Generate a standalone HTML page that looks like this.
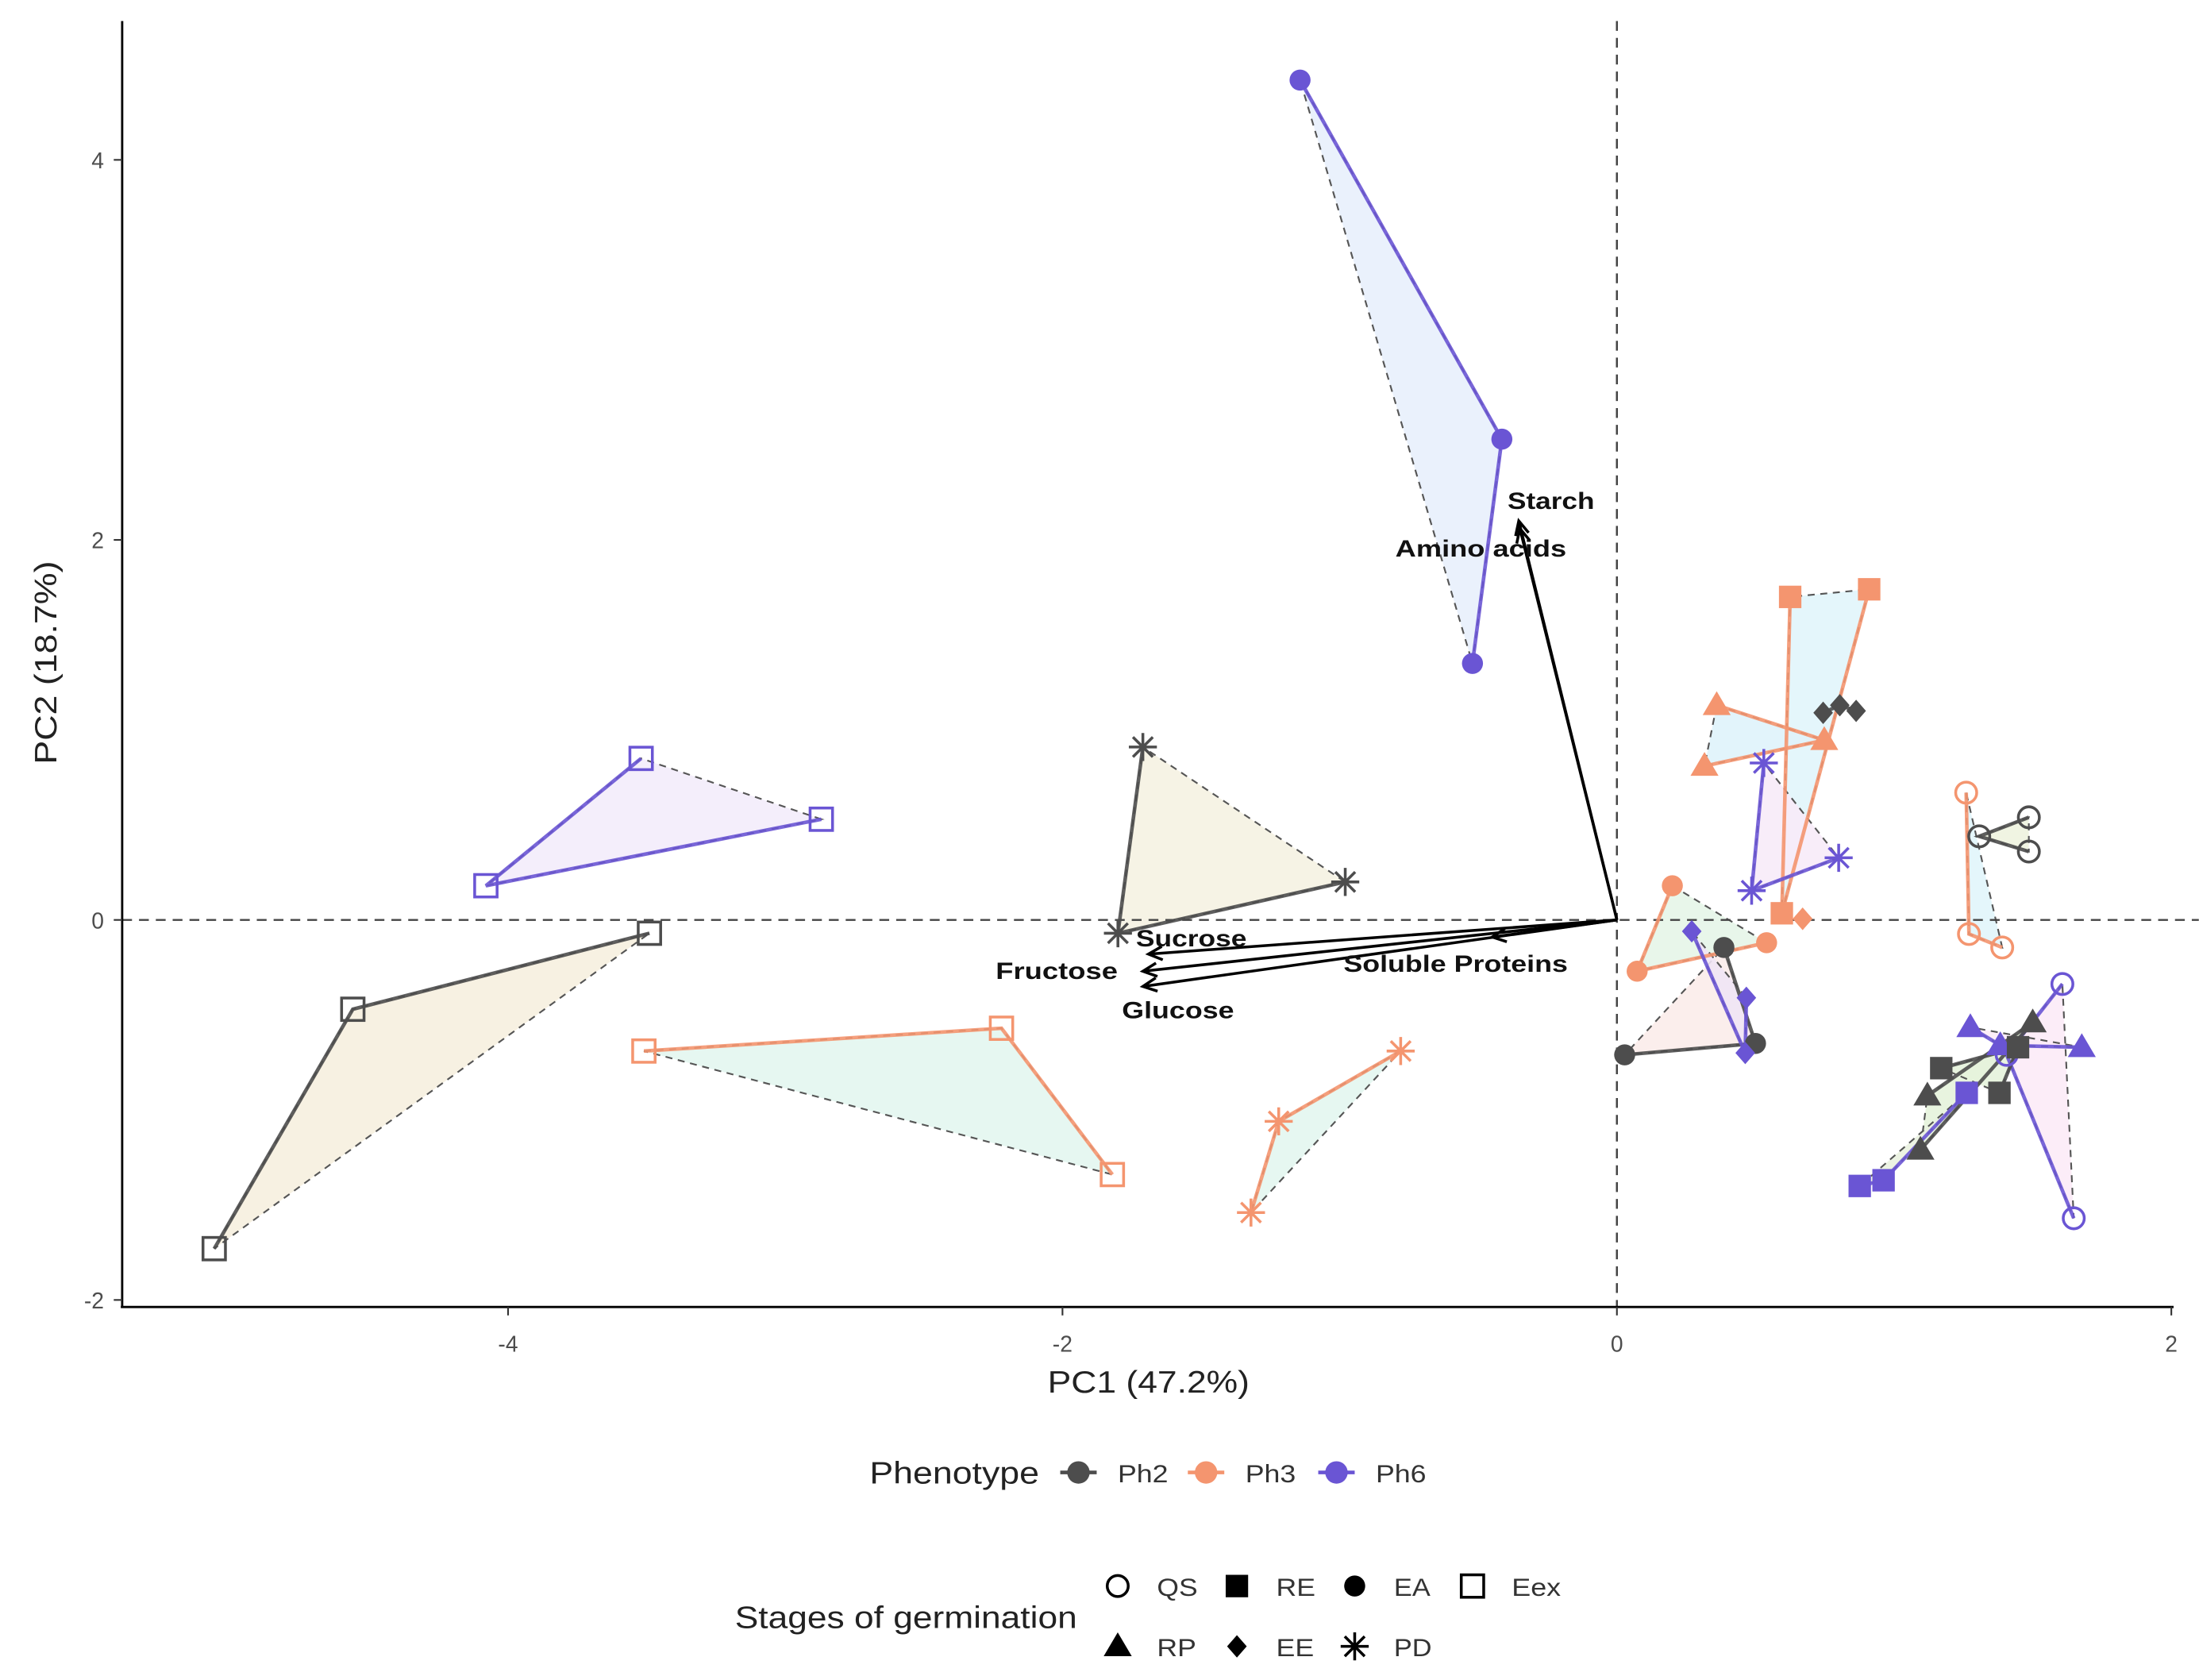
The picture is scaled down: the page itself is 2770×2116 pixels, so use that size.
<!DOCTYPE html>
<html><head><meta charset="utf-8">
<style>
html,body{margin:0;padding:0;background:#fff;}
svg{display:block;}
text{font-family:"Liberation Sans",Arial,sans-serif;}
</style></head>
<body>
<svg id="chart" width="2770" height="2116" viewBox="0 0 1568 1198" xmlns="http://www.w3.org/2000/svg">
<g id="hulls"></g>
<g id="ref"></g>
<g id="paths"></g>
<g id="pts"></g>
<g id="arrows"></g>
<g id="axes"></g>
<g id="legend"></g>
</svg>
<script>
const groupNames = ["Ph6-EA","Ph6-Eex","Ph2-Eex","Ph3-Eex","Ph2-PD","Ph3-PD","Ph3-RE","Ph3-RP","Ph6-PD","Ph3-EA","Ph2-EA","Ph6-EE","Ph3-QS","Ph2-QS","Ph6-QS","Ph6-RP","Ph2-RP","Ph2-RE","Ph6-RE","Ph2-EE","Ph3-EE"];
const groupPhenotype = ["Ph6","Ph6","Ph2","Ph3","Ph2","Ph3","Ph3","Ph3","Ph6","Ph3","Ph2","Ph6","Ph3","Ph2","Ph6","Ph6","Ph2","Ph2","Ph6","Ph2","Ph3"];
const groupStage = ["EA","Eex","Eex","Eex","PD","PD","RE","RP","PD","EA","EA","EE","QS","QS","QS","RP","RP","RE","RE","EE","EE"];
const pc1Values = [
 [-1.143,-0.415,-0.521],[-3.52,-4.08,-2.87],[-3.49,-4.56,-5.06],[-3.51,-2.22,-1.82],
 [-0.98,-1.80,-1.71],[-0.78,-1.22,-1.32],[0.625,0.595,0.91],[0.36,0.748,0.316],
 [0.53,0.486,0.80],[0.20,0.073,0.54],[0.386,0.50,0.028],[0.27,0.463,0.467],
 [1.26,1.27,1.39],[1.486,1.307,1.486],[1.607,1.406,1.648],[1.275,1.383,1.677],
 [1.12,1.50,1.095],[1.17,1.447,1.38],[0.876,0.962,1.262],[0.744,0.804,0.863],[0.67,0.67,0.67]];
const pc2Values = [
 [4.42,2.53,1.35],[0.85,0.18,0.53],[-0.07,-0.47,-1.73],[-0.69,-0.57,-1.34],
 [0.20,-0.07,0.91],[-0.69,-1.06,-1.54],[1.70,0.035,1.74],[1.13,0.946,0.81],
 [0.826,0.154,0.327],[0.18,-0.27,-0.12],[-0.145,-0.65,-0.71],[-0.06,-0.70,-0.41],
 [0.67,-0.074,-0.145],[0.54,0.44,0.36],[-0.337,-0.71,-1.57],[-0.565,-0.66,-0.67],
 [-0.925,-0.54,-1.21],[-0.78,-0.67,-0.91],[-1.40,-1.37,-0.91],[1.09,1.13,1.10],[0.006,0.006,0.006]];
const hullFills = ["#e8f0fc","#f3ecfb","#f6efdf","#e3f6f0","#f5f2e2","#e3f6f0","#e1f5fb","#dff3fb","#f7ebf8","#e5f5e8","#fbecea","#efe4f5","#e1f5fb","#eef3df","#fcebf7","#fcebf7","#e6f3dc","#e6f3dc","#eaf2e0","none","none"];
const loadingNames = ["Starch","Amino acids","Sucrose","Fructose","Glucose","Soluble Proteins"];
const loadingPC1 = [-0.354,-0.35,-1.69,-1.71,-1.71,-0.45];
const loadingPC2 = [2.10,2.06,-0.18,-0.27,-0.35,-0.09];
const xTicks = [-4,-2,0,2];
const yTicks = [-2,0,2,4];

const NS="http://www.w3.org/2000/svg";
const colors={Ph2:"#4d4d4d",Ph3:"#f4956f",Ph6:"#6a55d4"};
function sx(v){return 1153+v*197.7;}
function sy(v){return 656-v*135.5;}
function mk(tag,attrs,parent){const e=document.createElementNS(NS,tag);for(const k in attrs)e.setAttribute(k,attrs[k]);if(parent)parent.appendChild(e);return e;}
function marker(parent,stage,x,y,c){
  let g=mk("g",{},parent);
  if(stage==="EA"){mk("circle",{cx:x,cy:y,r:7.5,fill:c},g);}
  else if(stage==="QS"){mk("circle",{cx:x,cy:y,r:7.5,fill:"none",stroke:c,"stroke-width":2},g);}
  else if(stage==="RE"){mk("rect",{x:x-8,y:y-8,width:16,height:16,fill:c},g);}
  else if(stage==="Eex"){mk("rect",{x:x-8,y:y-8,width:16,height:16,fill:"none",stroke:c,"stroke-width":2},g);}
  else if(stage==="RP"){mk("polygon",{points:`${x},${y-10} ${x+10},${y+7} ${x-10},${y+7}`,fill:c},g);}
  else if(stage==="EE"){mk("polygon",{points:`${x},${y-8} ${x+7},${y} ${x},${y+8} ${x-7},${y}`,fill:c},g);}
  else if(stage==="PD"){const r=10,d=7.1;
    mk("path",{d:`M${x-r},${y}H${x+r}M${x},${y-r}V${y+r}M${x-d},${y-d}L${x+d},${y+d}M${x-d},${y+d}L${x+d},${y-d}`,stroke:c,"stroke-width":2,fill:"none"},g);}
  return g;
}
const hulls=document.getElementById("hulls"),paths=document.getElementById("paths"),pts=document.getElementById("pts");
for(let i=0;i<groupNames.length;i++){
  const c=colors[groupPhenotype[i]];
  const P=pc1Values[i].map((v,j)=>[sx(v),sy(pc2Values[i][j])]);
  const ps=P.map(p=>p.join(",")).join(" ");
  if(hullFills[i]!=="none"){
    const h=mk("polygon",{points:ps,fill:hullFills[i],"fill-opacity":0.9,stroke:"#555","stroke-width":1.2,"stroke-dasharray":"5,4"},hulls);
    
    
  }
  const pl=mk("polyline",{points:ps,fill:"none",stroke:c,"stroke-width":2.6,"stroke-opacity":0.9},paths);
  
  
  P.forEach((p,j)=>{
    const m=marker(pts,groupStage[i],p[0],p[1],c);
    
    
  });
}
const ref=document.getElementById("ref");
mk("line",{x1:87,x2:1568,y1:sy(0),y2:sy(0),stroke:"#444","stroke-width":1.4,"stroke-dasharray":"7,5"},ref);
mk("line",{x1:sx(0),x2:sx(0),y1:15,y2:932,stroke:"#444","stroke-width":1.4,"stroke-dasharray":"7,5"},ref);
const ar=document.getElementById("arrows");
const labelPos=[[1075,357,62],[995,391,122],[810,669,79],[710,692,87],[800,720,80],[958,687,160]];
loadingNames.forEach((n,i)=>{
  const x0=sx(0),y0=sy(0),x1=sx(loadingPC1[i]),y1=sy(loadingPC2[i]);
  const a=Math.atan2(y1-y0,x1-x0),L=11,w=0.45;
  const g=mk("g",{},ar);
  
  
  mk("path",{d:`M${x0},${y0}L${x1},${y1}M${x1-L*Math.cos(a-w)},${y1-L*Math.sin(a-w)}L${x1},${y1}L${x1-L*Math.cos(a+w)},${y1-L*Math.sin(a+w)}`,stroke:"#000","stroke-width":2,fill:"none"},g);
  const t=mk("text",{x:labelPos[i][0],y:labelPos[i][1]+6,"font-size":17,"font-weight":"bold",fill:"#111",textLength:labelPos[i][2],lengthAdjust:"spacingAndGlyphs"},ar);
  t.textContent=n;
  
  
});
const ax=document.getElementById("axes");
mk("line",{x1:87,x2:87,y1:15,y2:932,stroke:"#000","stroke-width":1.6},ax);
mk("line",{x1:86,x2:1550,y1:932,y2:932,stroke:"#000","stroke-width":1.6},ax);
xTicks.forEach(v=>{
  const x=sx(v);
  mk("line",{x1:x,x2:x,y1:932,y2:938,stroke:"#333","stroke-width":1.2},ax);
  const t=mk("text",{x:x,y:964,"font-size":16,fill:"#4d4d4d","text-anchor":"middle"},ax);
  t.textContent=String(v);
  
  
});
yTicks.forEach(v=>{
  const y=sy(v);
  mk("line",{x1:81,x2:87,y1:y,y2:y,stroke:"#333","stroke-width":1.2},ax);
  const t=mk("text",{x:74,y:y+6,"font-size":16,fill:"#4d4d4d","text-anchor":"end"},ax);
  t.textContent=String(v);
  
  
});
let t=mk("text",{x:747,y:993,"font-size":22,fill:"#222",textLength:144,lengthAdjust:"spacingAndGlyphs"},ax);t.textContent="PC1 (47.2%)";


t=mk("text",{x:-72,y:0,"font-size":22,fill:"#222",textLength:145,lengthAdjust:"spacingAndGlyphs",transform:"translate(40,473) rotate(-90)"},ax);t.textContent="PC2 (18.7%)";


const lg=document.getElementById("legend");
t=mk("text",{x:620,y:1058,"font-size":22,fill:"#222",textLength:121,lengthAdjust:"spacingAndGlyphs"},lg);t.textContent="Phenotype";


[["Ph2",769],["Ph3",860],["Ph6",953]].forEach(([n,x])=>{
  const g=mk("g",{},lg);
  
  
  mk("line",{x1:x-13,x2:x+13,y1:1050,y2:1050,stroke:colors[n],"stroke-width":2.6},g);
  mk("circle",{cx:x,cy:1050,r:8,fill:colors[n]},g);
  const tt=mk("text",{x:x+28,y:1057,"font-size":18,fill:"#333",textLength:36,lengthAdjust:"spacingAndGlyphs"},g);tt.textContent=n;
});
t=mk("text",{x:524,y:1161,"font-size":22,fill:"#222",textLength:244,lengthAdjust:"spacingAndGlyphs"},lg);t.textContent="Stages of germination";


[["QS",797,1131,29],["RE",882,1131,28],["EA",966,1131,26],["Eex",1050,1131,35],["RP",797,1174,28],["EE",882,1174,27],["PD",966,1174,27]].forEach(([n,x,y,w])=>{
  const g=mk("g",{},lg);
  
  
  marker(g,n,x,y,"#000");
  const tt=mk("text",{x:x+28,y:y+7,"font-size":18,fill:"#333",textLength:w,lengthAdjust:"spacingAndGlyphs"},g);tt.textContent=n;
});
</script>
</body></html>
